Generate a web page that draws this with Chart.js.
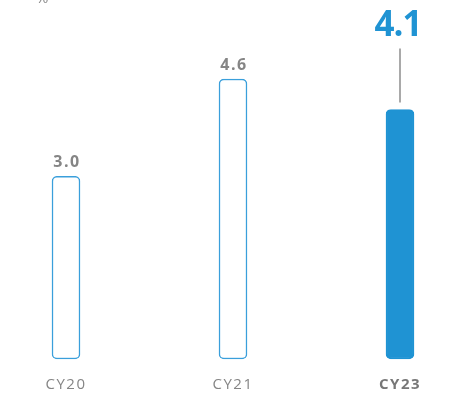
<!DOCTYPE html>
<html>
<head>
<meta charset="utf-8">
<script src="https://cdn.jsdelivr.net/npm/chart.js@4.4.0/dist/chart.umd.min.js"></script>
<style>
  html, body { margin: 0; padding: 0; background: #fff; }
  #wrap { width: 461px; height: 395px; }
</style>
</head>
<body>
<div id="wrap"><canvas id="rateChart"></canvas></div>
<script>
const years = ["CY20", "CY21", "CY23"];
const rates = [3.0, 4.6, 4.1];
const valueLabels = ["3.0", "4.6", "4.1"];
const unitLabel = "%";

const blue = "#1f93d3";
const grey = "#858585";

// value labels above bars + the "%" unit at top left
const barLabels = {
  id: "barLabels",
  afterDatasetsDraw(chart) {
    const ctx = chart.ctx;
    const meta = chart.getDatasetMeta(0);
    ctx.save();
    ctx.textAlign = "center";
    ctx.textBaseline = "middle";
    meta.data.forEach(function (bar, i) {
      if (i === rates.length - 1) {
        // highlighted last year: big blue label with a leader line
        ctx.strokeStyle = "#8c8c8c";
        ctx.lineWidth = 1.5;
        ctx.beginPath();
        ctx.moveTo(bar.x, bar.y - 7);
        ctx.lineTo(bar.x, bar.y - 61);
        ctx.stroke();
        ctx.fillStyle = blue;
        ctx.font = "bold 35px 'Open Sans'";
        ctx.letterSpacing = "-1px";
        ctx.fillText(valueLabels[i], bar.x - 2, bar.y - 83);
      } else {
        ctx.fillStyle = grey;
        ctx.font = "bold 16px 'Open Sans'";
        ctx.letterSpacing = "1.5px";
        ctx.fillText(valueLabels[i], bar.x + 1, bar.y - 14);
      }
    });
    ctx.letterSpacing = "0px";
    ctx.fillStyle = grey;
    ctx.font = "15px 'Open Sans'";
    ctx.textAlign = "left";
    ctx.fillText(unitLabel, 36, -1);
    ctx.restore();
  },
};

const spacing = {
  id: "spacing",
  beforeDraw(chart) {
    chart.ctx.letterSpacing = "1.5px";
  },
};

const ctx = document.getElementById("rateChart");
const myChart = new Chart(ctx, {
  type: "bar",
  data: {
    labels: years,
    datasets: [
      {
        data: rates,
        backgroundColor: ["#ffffff", "#ffffff", blue],
        borderColor: ["#3a9fdb", "#3a9fdb", blue],
        borderWidth: 1.5,
        borderRadius: 5,
        borderSkipped: false,
        barThickness: 28,
        clip: false,
      },
    ],
  },
  options: {
    responsive: true,
    maintainAspectRatio: false,
    animation: false,
    layout: {
      padding: { top: 6, left: 66, right: 61, bottom: -16 },
    },
    plugins: {
      legend: { display: false },
      tooltip: { enabled: false },
    },
    scales: {
      x: {
        offset: false,
        grid: { display: false, drawTicks: false },
        border: { display: false },
        ticks: {
          autoSkip: false,
          maxRotation: 0,
          padding: 17,
          color: function (c) {
            return c.index === 2 ? "#777777" : grey;
          },
          font: function (c) {
            return {
              family: "'Open Sans'",
              size: 15,
              weight: c.index === 2 ? "bold" : "normal",
            };
          },
        },
      },
      y: {
        display: false,
        min: 0,
        max: 5.8,
      },
    },
  },
  plugins: [spacing, barLabels],
});
</script>
</body>
</html>
